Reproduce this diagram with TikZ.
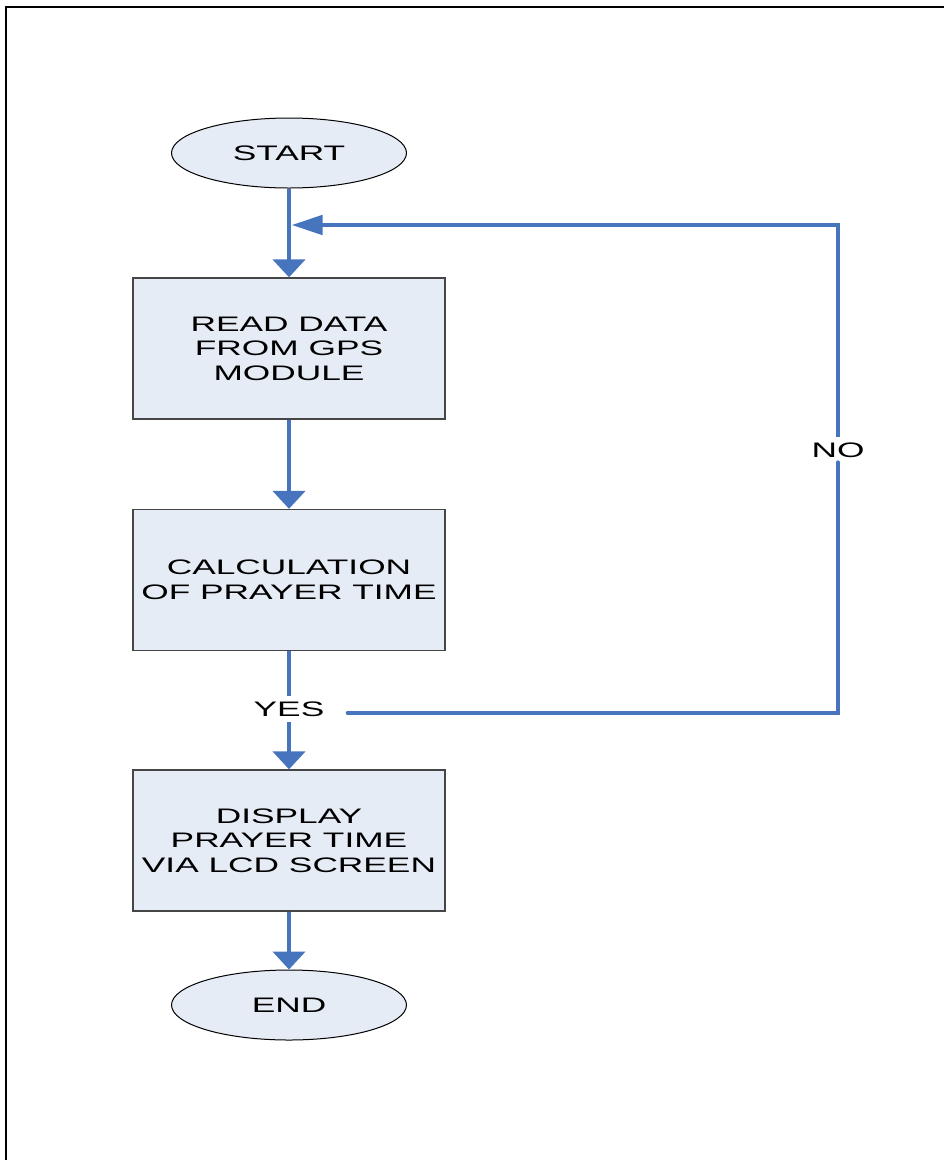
\documentclass[tikz,border=0pt]{standalone}
\usepackage{fontspec}
\newfontfamily\diafont[FakeStretch=1.68]{Liberation Sans}
\usetikzlibrary{shapes.geometric,arrows.meta}
\definecolor{flowblue}{RGB}{70,117,190}
\definecolor{boxfill}{RGB}{230,236,246}
\definecolor{boxline}{RGB}{70,70,70}
\begin{document}
\begin{tikzpicture}[x=1pt,y=-1pt,
  txt/.style={font=\diafont\fontsize{21}{24.5}\selectfont, align=center, text=black},
  terminal/.style={ellipse, draw=black, line width=1pt, fill=boxfill, minimum width=235pt, minimum height=70pt, inner sep=0pt, txt},
  process/.style={rectangle, draw=boxline, line width=1.3pt, fill=boxfill, minimum width=312pt, minimum height=141pt, inner sep=0pt, txt},
  flow/.style={draw=flowblue, line width=4.7pt, line join=miter},
  downarrow/.style={flow, -{Triangle[width=32pt,length=18pt]}},
  leftarrow/.style={flow, -{Triangle[width=19pt,length=31pt]}},
  lbl/.style={txt, inner sep=0pt, minimum height=25pt, fill=white}
]
\useasboundingbox (0,0) rectangle (944,1160);
\draw[line width=2.2pt, black] (6,1160) -- (6,7) -- (944,7);

\node[terminal] (start) at (289,153) {START};
\node[process] (read) at (289,348.5) {READ DATA\\FROM GPS\\MODULE};
\node[process] (calc) at (289,580) {CALCULATION\\OF PRAYER TIME};
\node[process] (disp) at (289,840.5) {DISPLAY\\PRAYER TIME\\VIA LCD SCREEN};
\node[terminal] (end) at (289,1005) {END};

\node[lbl] (yes) at (289,709) {YES};
\node[lbl] (no) at (838,450) {NO};
\coordinate (yesend) at (348,713);
\coordinate (looptip) at (291.5,225);

\draw[downarrow] (start.south) -- (read.north);
\draw[downarrow] (read.south) -- (calc.north);
\draw[flow] (calc.south) -- (yes.north);
\draw[downarrow] (yes.south) -- (disp.north);
\draw[downarrow] (disp.south) -- (end.north);
\draw[flow, line cap=round] (yesend) -| (no.south);
\draw[leftarrow] (no.north) |- (looptip);
\end{tikzpicture}
\end{document}
